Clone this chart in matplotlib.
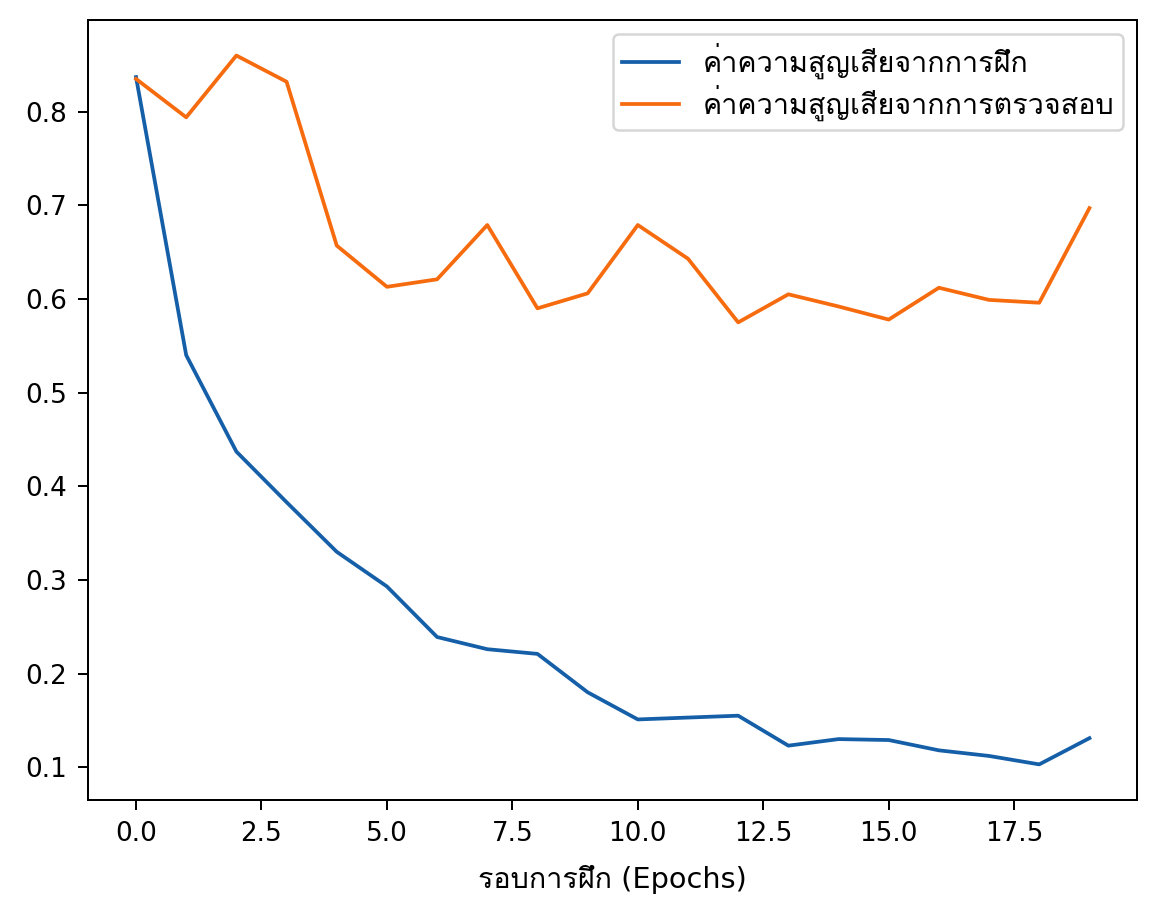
import matplotlib
matplotlib.use('Agg')
import matplotlib.pyplot as plt

# Loss values
epochs = list(range(20))
train_loss = [0.837, 0.540, 0.437, 0.383, 0.330, 0.293, 0.239, 0.226, 0.221, 0.180,
              0.151, 0.153, 0.155, 0.123, 0.130, 0.129, 0.118, 0.112, 0.103, 0.131]
val_loss = [0.835, 0.794, 0.860, 0.832, 0.657, 0.613, 0.621, 0.679, 0.590, 0.606,
            0.679, 0.643, 0.575, 0.605, 0.592, 0.578, 0.612, 0.599, 0.596, 0.697]
train_label = 'ค่าความสูญเสียจากการฝึก'
val_label = 'ค่าความสูญเสียจากการตรวจสอบ'
x_label = 'รอบการฝึก (Epochs)'

# DejaVu for latin, Loma picks up the Thai glyphs
thai_fonts = ['DejaVu Sans', 'Loma']

fig = plt.figure(figsize=(1155 / 180, 912 / 180), dpi=180)
ax = fig.add_axes([0.0765, 0.123, 0.908, 0.855])

ax.plot(epochs, train_loss, color='#155fa8', lw=1.5, label=train_label)
ax.plot(epochs, val_loss, color='#f76b0f', lw=1.5, label=val_label)

ax.tick_params(length=4, pad=4.5, labelsize=10.5)
ax.set_xlabel(x_label, family=thai_fonts, fontsize=11.5, labelpad=7)
ax.legend(loc='upper right', prop={'family': thai_fonts, 'size': 11.5},
          labelspacing=0.2, borderpad=0.3)

fig.savefig('out.png', dpi=180)
